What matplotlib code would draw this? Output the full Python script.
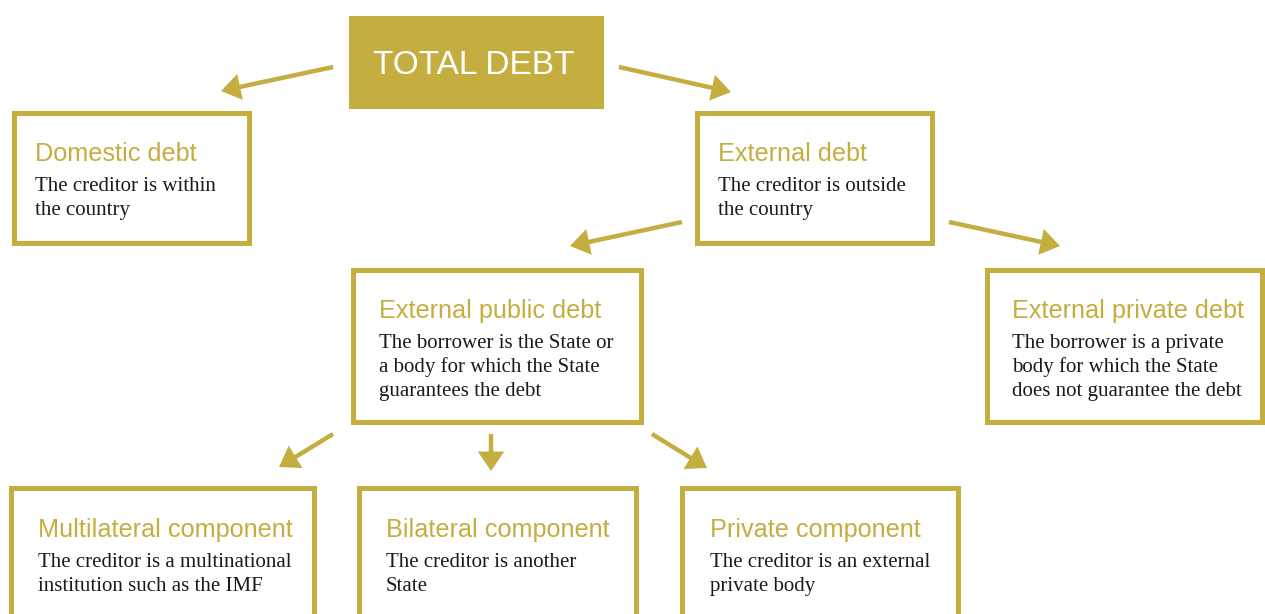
import matplotlib.pyplot as plt
from matplotlib.patches import Rectangle

gold = '#C4AE40'

titles = ['Domestic debt', 'External debt', 'External public debt', 'External private debt',
          'Multilateral component', 'Bilateral component', 'Private component']
descs = ['The creditor is within\nthe country',
         'The creditor is outside\nthe country',
         'The borrower is the State or\na body for which the State\nguarantees the debt',
         'The borrower is a private\nbody for which the State\ndoes not guarantee the debt',
         'The creditor is a multinational\ninstitution such as the IMF',
         'The creditor is another\nState',
         'The creditor is an external\nprivate body']

# layout in pixels: box x0, y0, x1, y1, text x, title baseline
boxes = [(14, 113, 249, 243, 35, 161),
         (697, 113, 932, 243, 718, 161),
         (353, 270, 641, 422, 379, 318),
         (987, 270, 1262, 422, 1012, 318),
         (11, 488, 314, 640, 38, 537),
         (359, 488, 636, 640, 386, 537),
         (682, 488, 958, 640, 710, 537)]
arrows = [((333, 67), (221, 91)), ((619, 67), (731, 92)),
          ((682, 222), (570, 246)), ((949, 222), (1060, 246)),
          ((333, 434), (279, 467)), ((491, 434), (491, 471)),
          ((652, 434), (707, 468))]

fig = plt.figure(figsize=(12.65, 6.14), dpi=100)
ax = fig.add_axes([0, 0, 1, 1])
ax.set_xlim(0, 1265)
ax.set_ylim(614, 0)
ax.axis('off')

# top box
ax.add_patch(Rectangle((349, 16), 255, 93, facecolor=gold, edgecolor='none'))
ax.text(474, 66, 'TOTAL DEBT', color='white', fontsize=24, ha='center', va='center',
        family='Liberation Sans')

for (x0, y0, x1, y1, tx, ty), t, d in zip(boxes, titles, descs):
    ax.add_patch(Rectangle((x0, y0), x1 - x0, y1 - y0, facecolor='white',
                           edgecolor=gold, linewidth=3.6))
    ax.text(tx, ty, t, color=gold, fontsize=18.2, family='Liberation Sans', va='baseline')
    for i, line in enumerate(d.split('\n')):
        ax.text(tx, ty + 30 + i * 24, line, color='#1a1a1a', fontsize=15,
                family='Liberation Serif', va='baseline')

for start, end in arrows:
    ax.annotate('', xy=end, xytext=start,
                arrowprops=dict(arrowstyle='simple,head_length=1.4,head_width=1.9,tail_width=0.32',
                                color=gold, lw=0, shrinkA=0, shrinkB=0))

fig.savefig('out.png', dpi=100)
